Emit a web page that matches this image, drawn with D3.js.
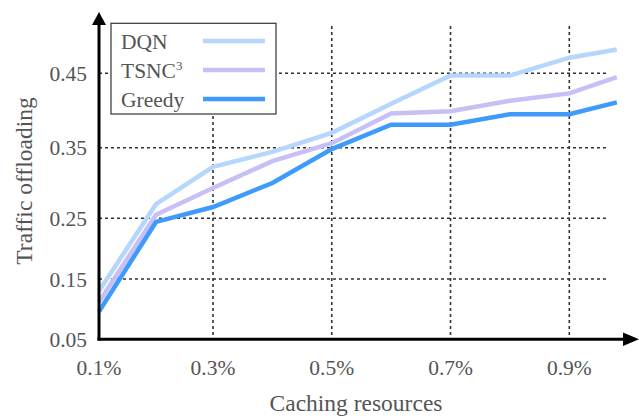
<!DOCTYPE html>
<html>
<head>
<meta charset="utf-8">
<script src="https://cdn.jsdelivr.net/npm/d3@7"></script>
<style>
  body { margin: 0; background: #fff; }
</style>
</head>
<body>
<div id="canvas"></div>
<script>
// data
var xs = [0.1, 0.2, 0.3, 0.4, 0.5, 0.6, 0.7, 0.8, 0.9, 0.98];
var dqn = [0.130, 0.270, 0.323, 0.344, 0.370, 0.409, 0.447, 0.447, 0.471, 0.482];
var tsnc = [0.112, 0.255, 0.293, 0.331, 0.356, 0.396, 0.399, 0.413, 0.423, 0.445];
var greedy = [0.096, 0.244, 0.266, 0.300, 0.348, 0.381, 0.381, 0.395, 0.395, 0.411];
var xTicks = [0.1, 0.3, 0.5, 0.7, 0.9];
var yTicks = [0.05, 0.15, 0.25, 0.35, 0.45];
var names = ["DQN", "TSNC", "Greedy"];
var colors = ["#b5d6fd", "#c8bff5", "#3f9bfb"];

var W = 639, H = 416;
var svg = d3.select("#canvas").append("svg").attr("width", W).attr("height", H)
  .attr("font-family", "'Liberation Serif', 'Times New Roman', Times, serif");

// y axis in the original is not evenly spaced, so map tick by tick
var x = d3.scaleLinear().domain([0.1, 0.3, 0.9]).range([99, 213, 569.3]);
var y = d3.scaleLinear().domain(yTicks).range([339.3, 279, 218.3, 147.7, 73.3]);

// grid
var grid = svg.append("g").attr("stroke", "#333").attr("stroke-width", 1.6).attr("stroke-dasharray", "3,3");
grid.selectAll(".h").data(yTicks.slice(1)).enter().append("line")
  .attr("x1", 99).attr("x2", 609)
  .attr("y1", function(d) { return y(d); }).attr("y2", function(d) { return y(d); });
grid.selectAll(".v").data(xTicks.slice(1)).enter().append("line")
  .attr("y1", 26).attr("y2", 339)
  .attr("x1", function(d) { return x(d); }).attr("x2", function(d) { return x(d); });

// lines
var line = d3.line().x(function(d, i) { return x(xs[i]); }).y(function(d) { return y(d); });
[dqn, tsnc, greedy].forEach(function(s, k) {
  svg.append("path").datum(s)
    .attr("d", line)
    .attr("fill", "none")
    .attr("stroke", colors[k])
    .attr("stroke-width", 4.5)
    .attr("stroke-linejoin", "miter");
});

// axes with arrows
svg.append("line").attr("x1", 99).attr("x2", 99).attr("y1", 340.5).attr("y2", 24)
  .attr("stroke", "#000").attr("stroke-width", 3);
svg.append("path").attr("d", "M92,25 L106,25 L99,12 Z").attr("fill", "#000");
svg.append("line").attr("x1", 97.5).attr("x2", 625).attr("y1", 339.3).attr("y2", 339.3)
  .attr("stroke", "#000").attr("stroke-width", 3);
svg.append("path").attr("d", "M623,332.5 L623,346 L639,339.3 Z").attr("fill", "#000");

// tick labels
svg.selectAll(".yl").data(yTicks).enter().append("text")
  .attr("x", 87).attr("y", function(d) { return y(d); })
  .attr("dy", "0.35em")
  .attr("text-anchor", "end")
  .attr("font-size", 21.5).attr("fill", "#555")
  .text(function(d) { return d3.format(".2f")(d); });
svg.selectAll(".xl").data(xTicks).enter().append("text")
  .attr("x", function(d) { return x(d); }).attr("y", 375)
  .attr("text-anchor", "middle")
  .attr("font-size", 21.5).attr("fill", "#555")
  .text(function(d) { return d3.format(".1f")(d) + "%"; });

// axis titles
svg.append("text").attr("x", 356).attr("y", 411).attr("text-anchor", "middle")
  .attr("font-size", 23.5).attr("fill", "#555").text("Caching resources");
svg.append("text").attr("transform", "translate(32,181) rotate(-90)")
  .attr("text-anchor", "middle").attr("font-size", 23.5).attr("fill", "#555").text("Traffic offloading");

// legend
var lg = svg.append("g");
lg.append("rect").attr("x", 111).attr("y", 23.3).attr("width", 165).attr("height", 90.7)
  .attr("fill", "#fff").attr("stroke", "#333").attr("stroke-width", 1.2);
var legY = [41, 70, 99];
names.forEach(function(n, i) {
  var t = lg.append("text").attr("x", 121).attr("y", legY[i]).attr("dy", "0.35em")
    .attr("font-size", 21.5).attr("fill", "#555");
  t.append("tspan").text(n);
  if (n === "TSNC") t.append("tspan").attr("font-size", 13).attr("dy", "-0.55em").text("3");
  lg.append("line").attr("x1", 203).attr("x2", 265).attr("y1", legY[i]).attr("y2", legY[i])
    .attr("stroke", colors[i]).attr("stroke-width", 4.5);
});
</script>
</body>
</html>
